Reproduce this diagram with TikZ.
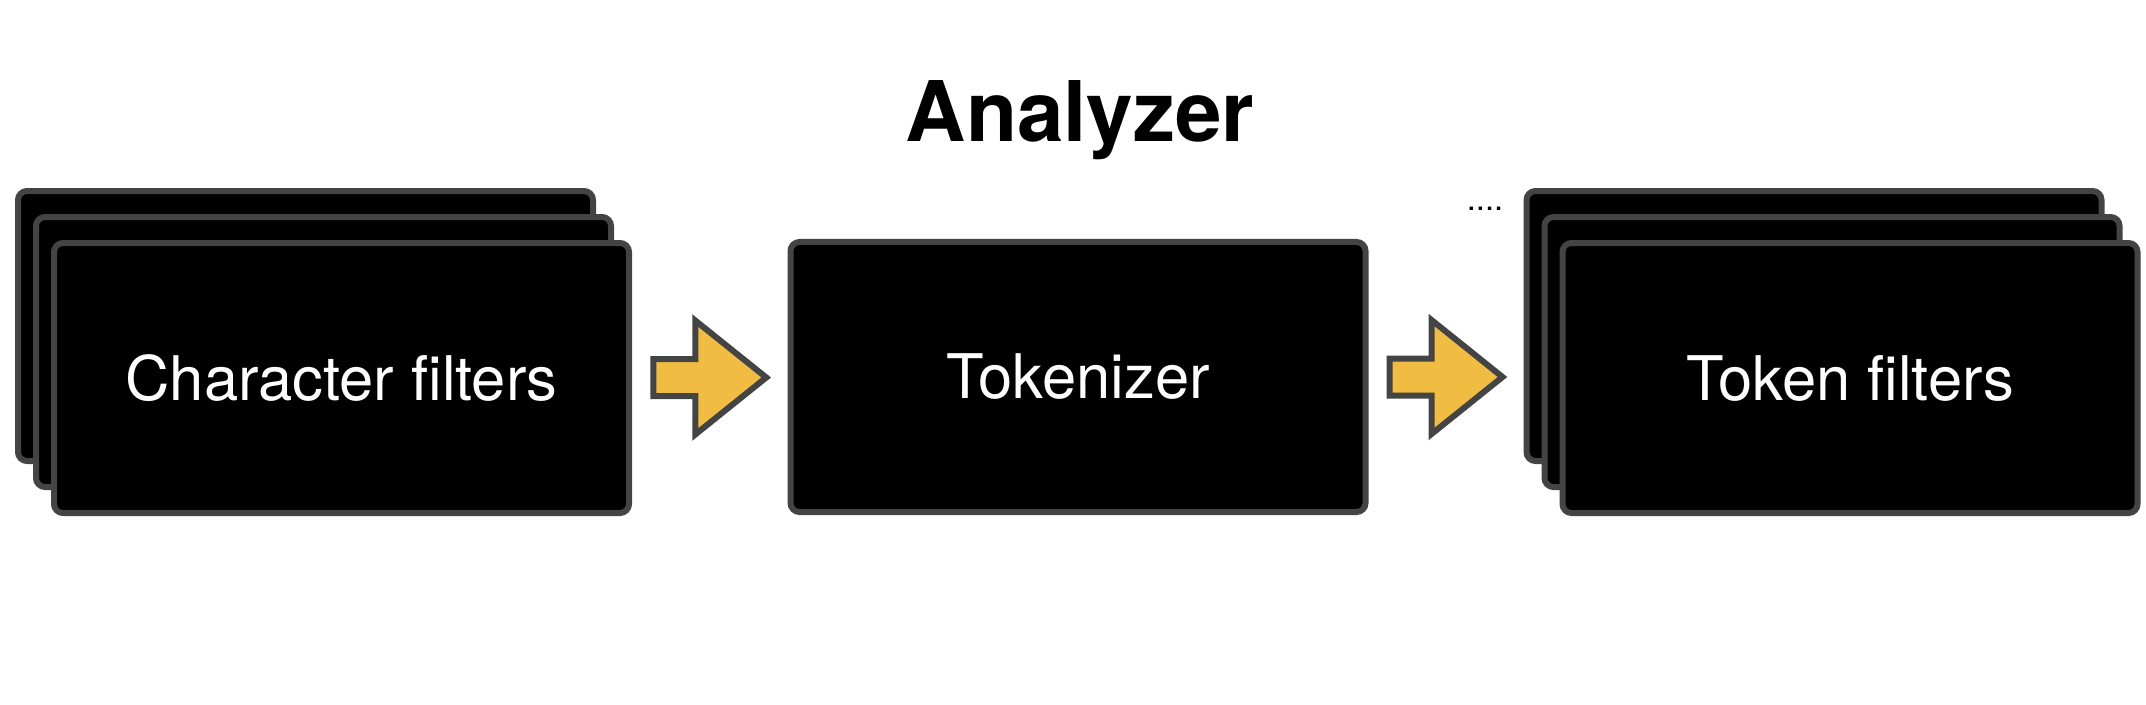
\documentclass[tikz,border=0pt]{standalone}
\usepackage{fontspec}
\setmainfont{TeX Gyre Heros}
\usetikzlibrary{calc}
\definecolor{bordegris}{HTML}{444444}
\definecolor{amarillo}{HTML}{F0BC42}

\tikzset{
	tarjeta/.style={draw=bordegris, fill=black, line width=0.06cm, rounded corners=0.09cm, minimum width=5.75cm, minimum height=2.70cm, text=white, font=\fontsize{17.5}{20}\selectfont},
	flecha/.pic={
		\draw[draw=bordegris, fill=amarillo, line width=0.06cm] (-0.565,0.185) -- (-0.145,0.185) -- (-0.145,0.57) -- (0.565,0) -- (-0.145,-0.57) -- (-0.145,-0.185) -- (-0.565,-0.185) -- cycle;
	}
}

\begin{document}
\begin{tikzpicture}
		\useasboundingbox (0,0) rectangle (21.46,7.04);
		
		% Titulo
		\node[anchor=base, font=\bfseries\fontsize{23.8}{28}\selectfont] (titulo) at (10.80,5.62) {Analyzer};
		
		% Tarjetas de atras, filtros de caracteres
		\foreach \i in {2,1} {
			\pgfmathsetmacro{\dx}{-0.18*\i}
			\pgfmathsetmacro{\dy}{0.26*\i}
			\node[tarjeta, xshift=\dx cm, yshift=\dy cm] (carac\i) at (3.415,3.26) {};
		}
		\node[tarjeta] (carac0) at (3.415,3.26) {Character filters};
		
		% Tokenizer
		\node[tarjeta] (tok) at (10.78,3.27) {Tokenizer};
		
		% Tarjetas de atras, filtros de tokens
		\foreach \i in {2,1} {
			\pgfmathsetmacro{\dx}{-0.18*\i}
			\pgfmathsetmacro{\dy}{0.26*\i}
			\node[tarjeta, xshift=\dx cm, yshift=\dy cm] (token\i) at (18.50,3.26) {};
		}
		\node[tarjeta] (token0) at (18.50,3.26) {Token filters};
		
		%\fill[red] (14.85,4.935) circle (0.5mm);
		\node[anchor=base, font=\fontsize{9.3}{11}\selectfont] (puntos) at (14.85,4.935) {....};
		
		% Flechas entre las etapas
		\pic at ($(carac0.east)!0.5!(tok.west)$) {flecha};
		\pic at ($(tok.east)!0.5!(token2.west |- tok.east)$) {flecha};
	\end{tikzpicture}
\end{document}
